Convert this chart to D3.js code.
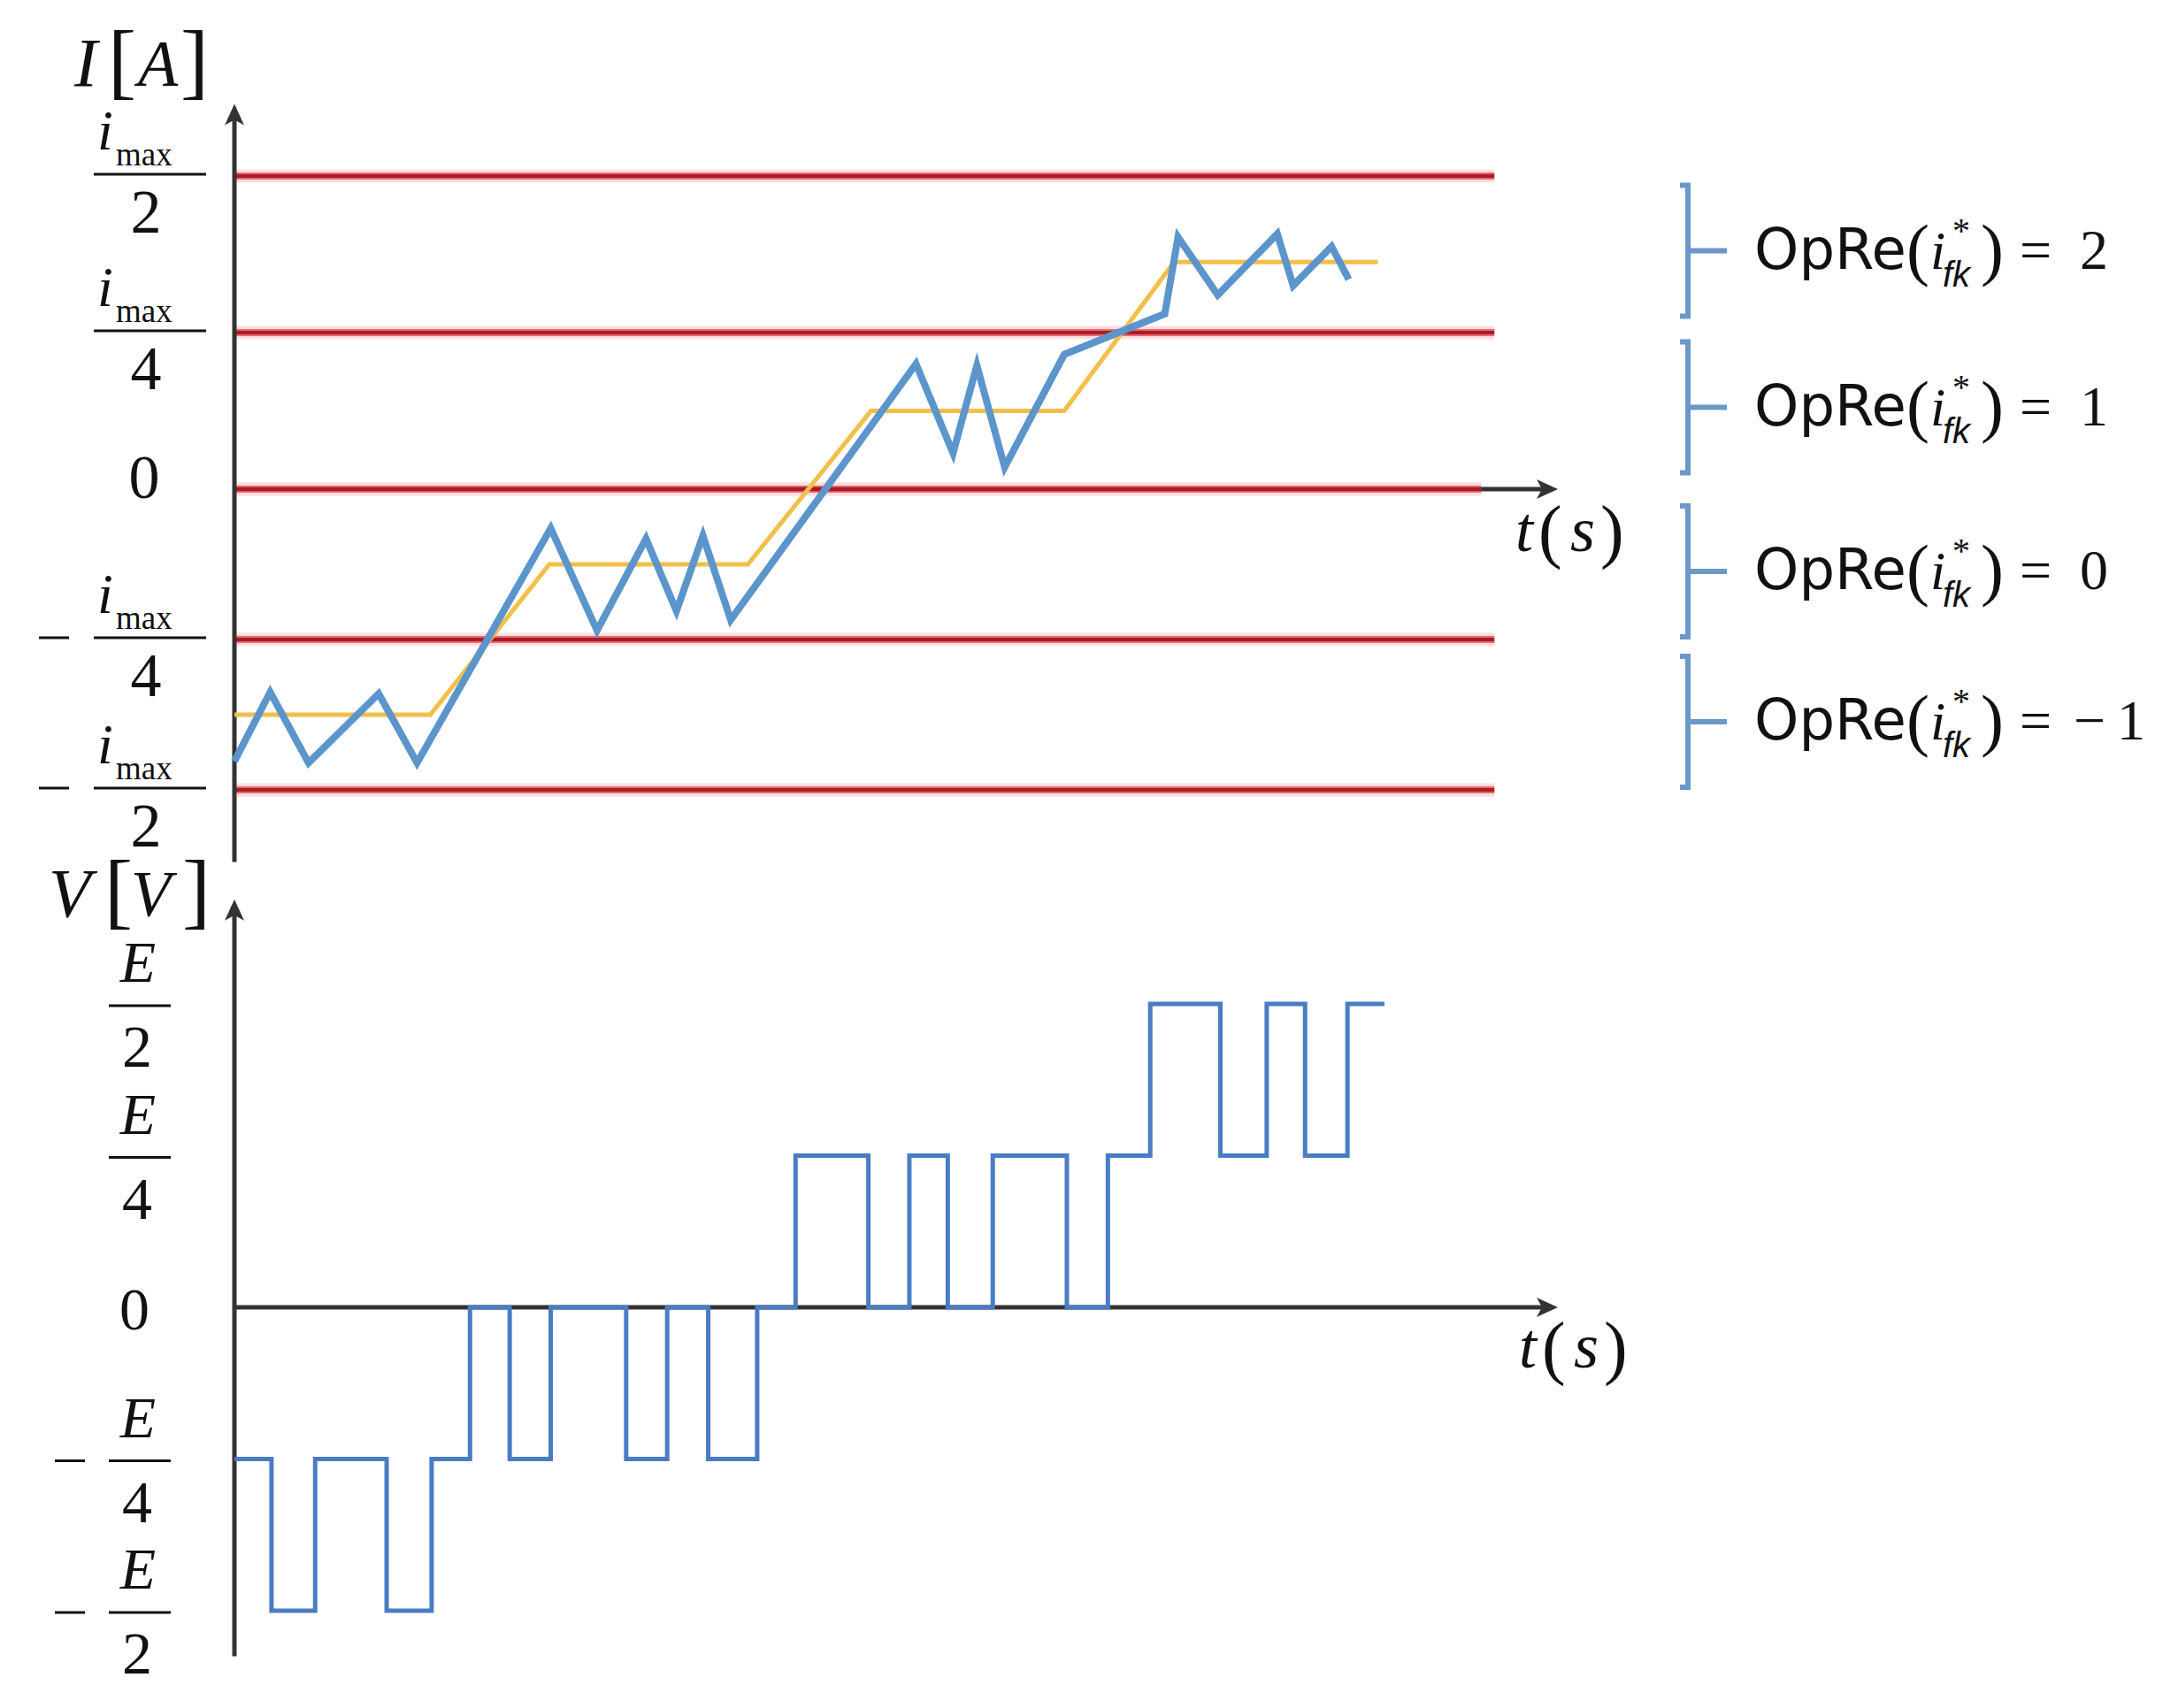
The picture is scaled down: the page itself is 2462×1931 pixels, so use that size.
<!DOCTYPE html>
<meta charset="utf-8">
<head>
<style>
body { margin: 0; background: #fff; }
svg text { fill: #111; }
.serif { font-family: "Liberation Serif", "Times New Roman", serif; }
.ital { font-style: italic; }
.sans { font-family: "DejaVu Sans", Verdana, sans-serif; }
.axis-line { stroke: #333; stroke-width: 5; fill: none; }
.limit-halo { stroke: #f4a0a4; stroke-width: 15; opacity: 0.35; }
.limit-glow { stroke: #e0464e; stroke-width: 8; opacity: 0.75; }
.limit { stroke: #aa1c24; stroke-width: 4; }
.ref-line { fill: none; stroke: #f1c04a; stroke-width: 5; }
.meas-line { fill: none; stroke: #5b95cc; stroke-width: 8; }
.volt-line { fill: none; stroke: #4a7cc4; stroke-width: 5; }
.bracket { fill: none; stroke: #6b98c8; stroke-width: 6; }
.frac-bar { stroke: #111; stroke-width: 3; }
</style>
</head>
<body>
<script src="https://cdn.jsdelivr.net/npm/d3@7"></script>
<script>

// current levels are in units of imax/4, voltage levels in units of E/4, time in arbitrary units (0..100)
var limitLevels = [2, 1, 0, -1, -2];

var iTickLevels = [2, 1, 0, -1, -2];
var iTickDenoms = ["2", "4", "", "4", "2"];

var vTickLevels = [2, 1, 0, -1, -2];
var vTickDenoms = ["2", "4", "", "4", "2"];

// reference current (yellow)
var refTime  = [0, 14.8, 23.8, 38.8, 48.1, 62.7, 71.0, 86.4];
var refLevel = [-1.5, -1.5, -0.5, -0.5, 0.5, 0.5, 1.45, 1.45];

// measured current (blue zig-zag)
var measTime  = [0, 2.7, 5.6, 10.9, 13.8, 23.9, 27.4, 31.1, 33.4, 35.4, 37.5, 51.5, 54.3, 56.1, 58.2, 62.7, 70.3, 71.3, 74.3, 78.8, 80.0, 82.9, 84.2];
var measLevel = [-1.81, -1.35, -1.82, -1.36, -1.82, -0.26, -0.94, -0.33, -0.81, -0.31, -0.87, 0.80, 0.23, 0.79, 0.14, 0.86, 1.12, 1.61, 1.24, 1.63, 1.30, 1.55, 1.34];

// output voltage (step)
var voltTime  = [0, 2.8, 6.1, 11.5, 14.9, 17.8, 20.8, 23.9, 29.6, 32.7, 35.8, 39.5, 42.4, 47.9, 51.0, 53.9, 57.3, 62.9, 66.0, 69.2, 74.5, 78.0, 80.9, 84.1, 86.9];
var voltLevel = [-1, -2, -1, -2, -1, 0, -1, 0, -1, 0, -1, 0, 1, 0, 1, 0, 1, 0, 1, 2, 1, 2, 1, 2, 2];

// legend (OpRe regions)
var opReLevels = [1.5, 0.5, -0.5, -1.5];
var opReValues = ["2", "1", "0", "\u22121"];

var W = 2462, H = 1931;

var svg = d3.select("body").append("svg")
    .attr("width", W)
    .attr("height", H);

var defs = svg.append("defs");
defs.append("marker")
    .attr("id", "arrow")
    .attr("viewBox", "-14 -13 28 26")
    .attr("markerWidth", 28)
    .attr("markerHeight", 26)
    .attr("markerUnits", "userSpaceOnUse")
    .attr("refX", 0)
    .attr("refY", 0)
    .attr("orient", "auto")
    .append("path")
    .attr("d", "M12,0 L-12,-11 L-6,0 L-12,11 Z")
    .attr("fill", "#333");

var x = d3.scaleLinear().domain([0, 100]).range([265, 1761]);
var yI = d3.scaleLinear().domain([-2, 0, 2]).range([893, 553, 199]);
var yV = d3.scaleLinear().domain([-2, 0, 2]).range([1821, 1478, 1135]);

var limitEnd = 95.2;

// ---------- top panel: current ----------
var topG = svg.append("g");

topG.append("line").attr("class", "axis-line")
    .attr("x1", x(0)).attr("x2", x(100) - 12)
    .attr("y1", yI(0)).attr("y2", yI(0))
    .attr("marker-end", "url(#arrow)");

// red limit lines, drawn in three layers to get the soft edge
["limit-halo", "limit-glow", "limit"].forEach(function(cls) {
    topG.selectAll("." + cls)
        .data(limitLevels)
        .enter().append("line")
        .attr("class", cls)
        .attr("x1", x(0)).attr("x2", function(d) { return d == 0 ? x(limitEnd - 1) : x(limitEnd); })
        .attr("y1", function(d) { return yI(d); })
        .attr("y2", function(d) { return yI(d); });
});

topG.append("line").attr("class", "axis-line")
    .attr("x1", x(0)).attr("x2", x(0))
    .attr("y1", yI(-2.48)).attr("y2", yI(2.46) + 12)
    .attr("marker-end", "url(#arrow)");

var lineI = d3.line()
    .x(function(d) { return x(d[0]); })
    .y(function(d) { return yI(d[1]); });

topG.append("path").attr("class", "ref-line")
    .attr("d", lineI(d3.zip(refTime, refLevel)));

topG.append("path").attr("class", "meas-line")
    .attr("d", lineI(d3.zip(measTime, measLevel)));

// current tick labels (fractions imax / n)
iTickLevels.forEach(function(k, i) {
    var yb = yI(k) - 2;
    if (k == 0) {
        topG.append("text").attr("class", "serif")
            .attr("x", 163).attr("y", yI(0) + 10)
            .attr("text-anchor", "middle")
            .attr("font-size", 70)
            .text("0");
        return;
    }
    topG.append("line").attr("class", "frac-bar")
        .attr("x1", 106).attr("x2", 233).attr("y1", yb).attr("y2", yb);
    topG.append("text").attr("class", "serif ital")
        .attr("x", 110).attr("y", yb - 28)
        .attr("font-size", 64)
        .text("i");
    topG.append("text").attr("class", "serif")
        .attr("x", 131).attr("y", yb - 10)
        .attr("font-size", 37)
        .text("max");
    topG.append("text").attr("class", "serif")
        .attr("x", 165).attr("y", yb + 66)
        .attr("text-anchor", "middle")
        .attr("font-size", 70)
        .text(iTickDenoms[i]);
    if (k < 0) {
        topG.append("line").attr("class", "frac-bar")
            .attr("x1", 44).attr("x2", 78).attr("y1", yb).attr("y2", yb);
    }
});

// I [A]
var unitI = topG.append("g").attr("class", "serif");
unitI.append("text").attr("class", "ital").attr("x", 84).attr("y", 97).attr("font-size", 78).text("I");
unitI.append("text").attr("x", 122).attr("y", 100).attr("font-size", 96).text("[");
unitI.append("text").attr("class", "ital").attr("x", 156).attr("y", 97).attr("font-size", 74).text("A");
unitI.append("text").attr("x", 204).attr("y", 100).attr("font-size", 96).text("]");

// ---------- bottom panel: voltage ----------
var botG = svg.append("g");

botG.append("line").attr("class", "axis-line")
    .attr("x1", x(0)).attr("x2", x(100) - 12)
    .attr("y1", yV(0)).attr("y2", yV(0))
    .attr("marker-end", "url(#arrow)");

botG.append("line").attr("class", "axis-line")
    .attr("x1", x(0)).attr("x2", x(0))
    .attr("y1", yV(-2.3)).attr("y2", yV(2.69) + 12)
    .attr("marker-end", "url(#arrow)");

var lineV = d3.line()
    .curve(d3.curveStepAfter)
    .x(function(d) { return x(d[0]); })
    .y(function(d) { return yV(d[1]); });

botG.append("path").attr("class", "volt-line")
    .attr("d", lineV(d3.zip(voltTime, voltLevel)));

vTickLevels.forEach(function(k, i) {
    var yb = yV(k) + 2;
    if (k == 0) {
        botG.append("text").attr("class", "serif")
            .attr("x", 152).attr("y", yV(0) + 25)
            .attr("text-anchor", "middle")
            .attr("font-size", 68)
            .text("0");
        return;
    }
    botG.append("line").attr("class", "frac-bar")
        .attr("x1", 123).attr("x2", 193).attr("y1", yb).attr("y2", yb);
    botG.append("text").attr("class", "serif ital")
        .attr("x", 156).attr("y", yb - 27)
        .attr("text-anchor", "middle")
        .attr("font-size", 66)
        .text("E");
    botG.append("text").attr("class", "serif")
        .attr("x", 155).attr("y", yb + 69)
        .attr("text-anchor", "middle")
        .attr("font-size", 68)
        .text(vTickDenoms[i]);
    if (k < 0) {
        botG.append("line").attr("class", "frac-bar")
            .attr("x1", 62).attr("x2", 96).attr("y1", yb).attr("y2", yb);
    }
});

// V [V]
var unitV = botG.append("g").attr("class", "serif");
unitV.append("text").attr("class", "ital").attr("x", 55).attr("y", 1036).attr("font-size", 78).text("V");
unitV.append("text").attr("x", 118).attr("y", 1038).attr("font-size", 96).text("[");
unitV.append("text").attr("class", "ital").attr("x", 148).attr("y", 1036).attr("font-size", 74).text("V");
unitV.append("text").attr("x", 206).attr("y", 1038).attr("font-size", 96).text("]");

// t(s) labels
function timeLabel(g, x0, yBase) {
    var t = g.append("g").attr("class", "serif");
    t.append("text").attr("class", "ital").attr("x", x0).attr("y", yBase).attr("font-size", 72).text("t");
    t.append("text").attr("x", x0 + 26).attr("y", yBase + 4).attr("font-size", 80).text("(");
    t.append("text").attr("class", "ital").attr("x", x0 + 62).attr("y", yBase).attr("font-size", 72).text("s");
    t.append("text").attr("x", x0 + 96).attr("y", yBase + 4).attr("font-size", 80).text(")");
}
timeLabel(topG, x(100) - 48, yI(0) + 70);
timeLabel(botG, x(100) - 44, yV(0) + 68);

// ---------- legend: OpRe brackets ----------
var leg = svg.append("g");
var bx = 1908, lx = 1983;

opReLevels.forEach(function(k, i) {
    var cy = yI(k) + (k > 0 ? -4 : 8);
    leg.append("path").attr("class", "bracket")
        .attr("d", "M" + (bx - 9) + "," + (cy - 74) + "H" + bx + "V" + (cy + 74) + "H" + (bx - 9)
            + "M" + bx + "," + cy + "H" + (bx + 44));
    var yb = cy + 20;
    leg.append("text").attr("class", "sans").attr("x", lx).attr("y", yb).attr("font-size", 64).text("OpRe");
    leg.append("text").attr("class", "serif").attr("x", lx + 172).attr("y", yb + 4).attr("font-size", 78).text("(");
    leg.append("text").attr("class", "serif ital").attr("x", lx + 199).attr("y", yb).attr("font-size", 62).text("i");
    leg.append("text").attr("class", "serif").attr("x", lx + 224).attr("y", yb - 30).attr("font-size", 40).text("*");
    leg.append("text").attr("class", "ital").attr("font-family", "Liberation Sans, sans-serif")
        .attr("x", lx + 213).attr("y", yb + 20).attr("font-size", 40).text("fk");
    leg.append("text").attr("class", "serif").attr("x", lx + 256).attr("y", yb + 4).attr("font-size", 78).text(")");
    leg.append("text").attr("class", "serif").attr("x", lx + 300).attr("y", yb).attr("font-size", 64).text("=");
    leg.append("text").attr("class", "serif").attr("x", lx + (opReValues[i].length > 1 ? 361 : 368)).attr("y", yb)
        .attr("font-size", 64).text(opReValues[i].length > 1 ? "\u2212\u20091" : opReValues[i]);
});

</script>
</body>
